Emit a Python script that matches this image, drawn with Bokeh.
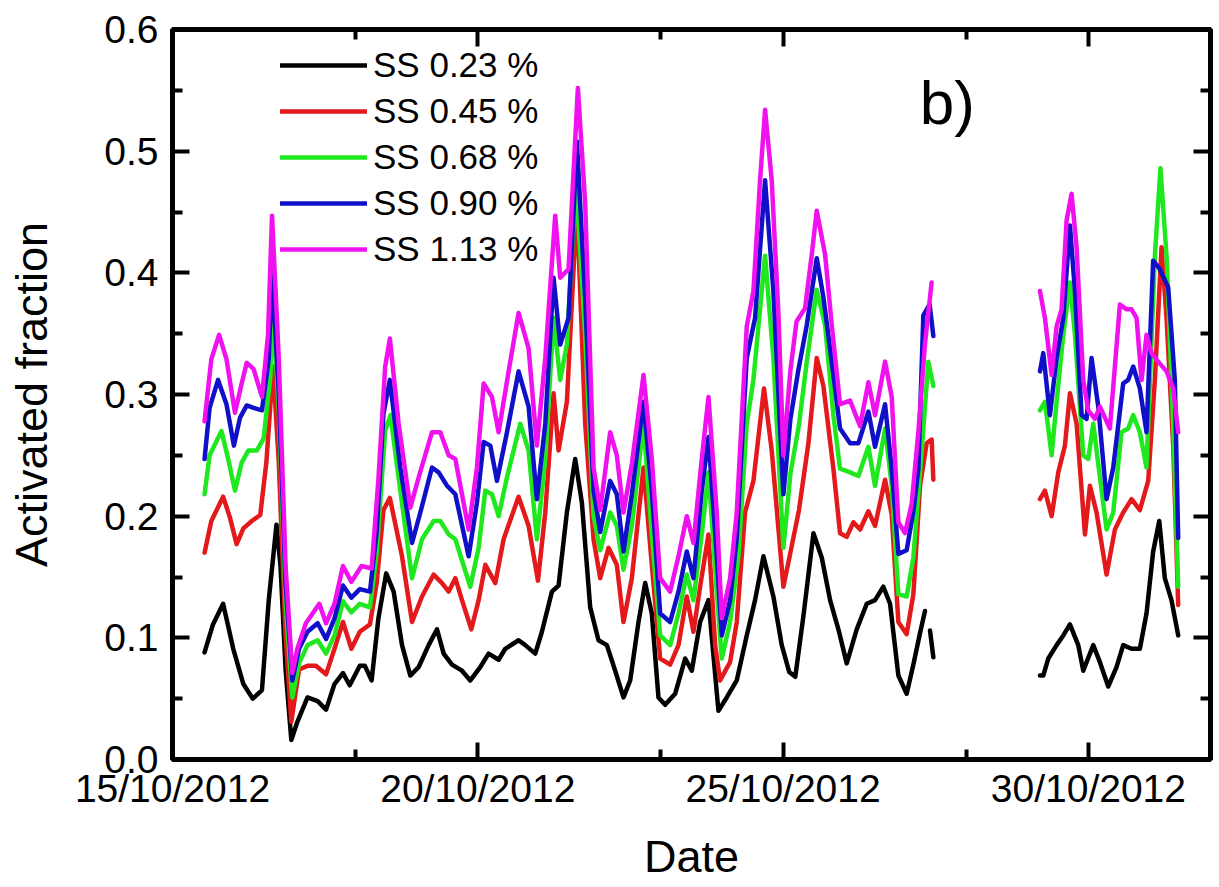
import numpy as np
import pandas as pd
from bokeh.plotting import figure
from bokeh.models import (FixedTicker, DatetimeTickFormatter, LinearAxis, DatetimeAxis,
                          Legend, LegendItem, Label, NumeralTickFormatter, CustomLabelingPolicy)
from bokeh.embed import file_html
from bokeh.resources import INLINE

# ---------------- data (days after 15/10/2012 00:00, activated fraction) ----------------
start_date = "2012-10-15"
end_date = "2012-11-01"
x_major_dates = ["2012-10-15", "2012-10-20", "2012-10-25", "2012-10-30"]
x_minor_dates = ["2012-10-18", "2012-10-23", "2012-10-28"]
y_major = [0.0, 0.1, 0.2, 0.3, 0.4, 0.5, 0.6]
y_minor = [0.05, 0.15, 0.25, 0.35, 0.45, 0.55]

series_labels = ["SS 0.23 %", "SS 0.45 %", "SS 0.68 %", "SS 0.90 %", "SS 1.13 %"]
series_colors = ["#000000", "#e3191b", "#1fe81f", "#1010c8", "#ef12ef"]

# None marks a gap in the record
ss023_days = [0.525, 0.663, 0.829, 0.995, 1.161, 1.316, 1.465, 1.575, 1.703, 1.769, 1.852, 1.946,
              2.045, 2.211, 2.377, 2.515, 2.653, 2.792, 2.902, 3.068, 3.151, 3.261, 3.372, 3.50,
              3.622, 3.759, 3.895, 4.032, 4.195, 4.332, 4.441, 4.577, 4.741, 4.877, 5.041, 5.177,
              5.341, 5.450, 5.668, 5.777, 5.941, 6.050, 6.214, 6.323, 6.459, 6.595, 6.705, 6.841,
              6.977, 7.114, 7.250, 7.386, 7.496, 7.632, 7.741, 7.850, 7.959, 8.068, 8.232, 8.396,
              8.505, 8.641, 8.778, 8.941, 9.077, 9.241, 9.405, 9.541, 9.678, 9.841, 9.978, 10.10,
              10.20, 10.333, 10.497, 10.633, 10.770, 10.906, 11.042, 11.206, 11.370, 11.506, 11.642,
              11.752, 11.888, 12.024, 12.134, 12.243, 12.324, 12.365, 12.406, 12.461, 13.3,
              14.207, 14.261, 14.343, 14.480, 14.589, 14.698, 14.834, 14.916, 15.080, 15.189,
              15.325, 15.461, 15.570, 15.707, 15.843, 15.952, 16.061, 16.161, 16.252, 16.361, 16.471]
ss023_vals = [0.088, 0.111, 0.128, 0.091, 0.062, 0.050, 0.057, 0.130, 0.193, 0.159, 0.074, 0.016,
              0.031, 0.051, 0.048, 0.041, 0.062, 0.071, 0.061, 0.077, 0.077, 0.065, 0.116, 0.153,
              0.138, 0.094, 0.069, 0.076, 0.094, 0.107, 0.087, 0.078, 0.073, 0.065, 0.076, 0.087,
              0.082, 0.091, 0.098, 0.094, 0.087, 0.105, 0.138, 0.143, 0.203, 0.247, 0.211, 0.125,
              0.098, 0.094, 0.073, 0.051, 0.065, 0.113, 0.145, 0.120, 0.051, 0.045, 0.054, 0.083,
              0.073, 0.113, 0.131, 0.040, 0.051, 0.065, 0.102, 0.131, 0.167, 0.134, 0.094, 0.072,
              0.068, 0.118, 0.186, 0.166, 0.131, 0.107, 0.079, 0.107, 0.128, 0.131, 0.142,
              0.128, 0.069, 0.054, 0.078, 0.104, 0.122, None, 0.106, 0.084, None,
              0.069, 0.069, 0.083, 0.094, 0.102, 0.111, 0.094, 0.073, 0.094, 0.080,
              0.060, 0.076, 0.094, 0.091, 0.091, 0.120, 0.171, 0.196, 0.149, 0.131, 0.102]

ss045_days = [0.525, 0.636, 0.829, 0.940, 1.050, 1.161, 1.299, 1.437, 1.537, 1.647, 1.741, 1.852,
              1.946, 2.073, 2.211, 2.349, 2.515, 2.653, 2.792, 2.930, 3.068, 3.234, 3.344, 3.455,
              3.56, 3.759, 3.923, 4.086, 4.277, 4.414, 4.523, 4.632, 4.741, 4.894, 5.014, 5.123,
              5.287, 5.423, 5.668, 5.832, 5.985, 6.105, 6.241, 6.323, 6.459, 6.623, 6.759, 6.896,
              7.005, 7.141, 7.277, 7.386, 7.523, 7.714, 7.850, 7.987, 8.150, 8.287, 8.423, 8.532,
              8.641, 8.778, 8.887, 8.968, 9.132, 9.241, 9.377, 9.514, 9.687, 9.814, 10.005, 10.12,
              10.26, 10.415, 10.551, 10.660, 10.824, 10.933, 11.042, 11.152, 11.261, 11.397, 11.506,
              11.670, 11.779, 11.888, 12.024, 12.134, 12.243, 12.352, 12.433, 12.461, 13.3,
              14.207, 14.288, 14.398, 14.507, 14.616, 14.698, 14.807, 14.944, 15.025, 15.134,
              15.298, 15.434, 15.570, 15.707, 15.843, 15.980, 16.089, 16.198, 16.280, 16.389, 16.471]
ss045_vals = [0.170, 0.196, 0.216, 0.199, 0.177, 0.190, 0.196, 0.201, 0.244, 0.323, 0.244, 0.102,
              0.031, 0.074, 0.077, 0.077, 0.070, 0.091, 0.113, 0.091, 0.105, 0.111, 0.145, 0.205,
              0.215, 0.167, 0.113, 0.134, 0.152, 0.145, 0.138, 0.149, 0.131, 0.107, 0.131, 0.160,
              0.145, 0.181, 0.216, 0.192, 0.147, 0.203, 0.301, 0.254, 0.294, 0.457, 0.276, 0.181,
              0.149, 0.174, 0.160, 0.113, 0.149, 0.240, 0.160, 0.083, 0.078, 0.094, 0.134, 0.105,
              0.142, 0.185, 0.094, 0.065, 0.080, 0.113, 0.203, 0.229, 0.305, 0.254, 0.142, 0.170,
              0.205, 0.260, 0.330, 0.307, 0.239, 0.186, 0.183, 0.195, 0.189, 0.204, 0.192,
              0.230, 0.201, 0.113, 0.103, 0.136, 0.225, 0.260, 0.263, 0.230, None,
              0.214, 0.221, 0.200, 0.236, 0.258, 0.301, 0.276, 0.185, 0.225, 0.203,
              0.152, 0.189, 0.203, 0.214, 0.205, 0.229, 0.312, 0.421, 0.363, 0.258, 0.127]

ss068_days = [0.525, 0.608, 0.802, 0.912, 1.023, 1.133, 1.244, 1.382, 1.493, 1.603, 1.65, 1.741,
              1.852, 1.962, 2.073, 2.211, 2.377, 2.515, 2.653, 2.792, 2.930, 3.068, 3.234, 3.344,
              3.483, 3.57, 3.731, 3.923, 4.086, 4.277, 4.386, 4.523, 4.632, 4.877, 5.014, 5.123,
              5.232, 5.341, 5.478, 5.695, 5.832, 5.968, 6.105, 6.241, 6.350, 6.459, 6.606, 6.759,
              6.896, 7.005, 7.168, 7.277, 7.386, 7.523, 7.714, 7.850, 7.987, 8.150, 8.287, 8.423,
              8.532, 8.668, 8.778, 8.914, 8.996, 9.132, 9.268, 9.405, 9.514, 9.705, 9.841, 10.005,
              10.12, 10.26, 10.388, 10.551, 10.688, 10.824, 10.933, 11.097, 11.234, 11.397, 11.506,
              11.670, 11.779, 11.888, 12.024, 12.134, 12.270, 12.379, 12.461, 13.3,
              14.207, 14.288, 14.398, 14.480, 14.589, 14.698, 14.780, 14.916, 14.998, 15.080,
              15.189, 15.298, 15.407, 15.543, 15.652, 15.734, 15.843, 15.952, 16.089, 16.180,
              16.280, 16.389, 16.471]
ss068_vals = [0.218, 0.250, 0.270, 0.247, 0.221, 0.244, 0.254, 0.254, 0.264, 0.315, 0.370, 0.287,
              0.130, 0.051, 0.079, 0.094, 0.098, 0.087, 0.102, 0.130, 0.121, 0.128, 0.125, 0.170,
              0.270, 0.283, 0.221, 0.149, 0.181, 0.196, 0.196, 0.185, 0.181, 0.142, 0.174, 0.221,
              0.218, 0.200, 0.232, 0.276, 0.254, 0.181, 0.247, 0.363, 0.312, 0.341, 0.476, 0.349,
              0.200, 0.172, 0.203, 0.192, 0.156, 0.192, 0.276, 0.185, 0.102, 0.094, 0.120, 0.152,
              0.131, 0.185, 0.236, 0.138, 0.083, 0.113, 0.167, 0.276, 0.312, 0.414, 0.330, 0.174,
              0.235, 0.275, 0.327, 0.386, 0.357, 0.283, 0.239, 0.236, 0.233, 0.257, 0.225,
              0.272, 0.225, 0.136, 0.134, 0.166, 0.254, 0.327, 0.307, None,
              0.287, 0.294, 0.250, 0.294, 0.349, 0.392, 0.349, 0.250, 0.247, 0.276,
              0.232, 0.189, 0.203, 0.269, 0.272, 0.283, 0.269, 0.240, 0.414, 0.486,
              0.414, 0.276, 0.142]

ss090_days = [0.525, 0.608, 0.746, 0.884, 1.006, 1.106, 1.216, 1.327, 1.465, 1.575, 1.63, 1.741,
              1.852, 1.962, 2.073, 2.211, 2.377, 2.515, 2.653, 2.792, 2.930, 3.068, 3.234, 3.344,
              3.455, 3.56, 3.731, 3.923, 4.059, 4.250, 4.359, 4.496, 4.632, 4.850, 4.986, 5.096,
              5.205, 5.314, 5.478, 5.668, 5.832, 5.968, 6.105, 6.241, 6.350, 6.486, 6.623, 6.759,
              6.896, 7.005, 7.168, 7.277, 7.386, 7.523, 7.714, 7.850, 7.987, 8.150, 8.287, 8.423,
              8.532, 8.668, 8.778, 8.914, 8.996, 9.132, 9.241, 9.405, 9.541, 9.705, 9.841, 10.005,
              10.12, 10.25, 10.388, 10.551, 10.660, 10.797, 10.933, 11.097, 11.234, 11.397, 11.506,
              11.670, 11.779, 11.888, 12.024, 12.134, 12.215, 12.297, 12.40, 12.461, 13.3,
              14.207, 14.261, 14.370, 14.480, 14.589, 14.698, 14.780, 14.889, 14.971, 15.052,
              15.162, 15.298, 15.407, 15.570, 15.652, 15.734, 15.843, 15.952, 16.061, 16.170,
              16.307, 16.416, 16.471]
ss090_vals = [0.247, 0.289, 0.312, 0.292, 0.258, 0.281, 0.291, 0.289, 0.287, 0.329, 0.400, 0.301,
              0.145, 0.065, 0.091, 0.105, 0.112, 0.099, 0.116, 0.143, 0.133, 0.140, 0.138, 0.187,
              0.284, 0.312, 0.240, 0.178, 0.203, 0.240, 0.236, 0.225, 0.218, 0.167, 0.211, 0.261,
              0.258, 0.229, 0.269, 0.319, 0.290, 0.214, 0.276, 0.396, 0.341, 0.363, 0.508, 0.378,
              0.221, 0.187, 0.229, 0.218, 0.171, 0.218, 0.294, 0.221, 0.120, 0.113, 0.138, 0.171,
              0.149, 0.221, 0.265, 0.167, 0.102, 0.131, 0.182, 0.330, 0.363, 0.476, 0.385, 0.218,
              0.280, 0.320, 0.357, 0.412, 0.380, 0.327, 0.272, 0.260, 0.260, 0.286, 0.257,
              0.292, 0.239, 0.169, 0.172, 0.204, 0.239, 0.365, 0.374, 0.348, None,
              0.319, 0.334, 0.283, 0.330, 0.363, 0.439, 0.385, 0.283, 0.280, 0.330,
              0.290, 0.214, 0.240, 0.309, 0.312, 0.323, 0.305, 0.269, 0.410, 0.403,
              0.388, 0.312, 0.182]

ss113_days = [0.525, 0.636, 0.763, 0.884, 1.023, 1.133, 1.216, 1.327, 1.465, 1.564, 1.63, 1.741,
              1.852, 1.962, 2.045, 2.184, 2.405, 2.515, 2.653, 2.792, 2.930, 3.096, 3.261, 3.372,
              3.483, 3.56, 3.704, 3.895, 4.032, 4.250, 4.386, 4.523, 4.632, 4.850, 4.986, 5.096,
              5.232, 5.341, 5.505, 5.668, 5.832, 5.968, 6.105, 6.268, 6.350, 6.486, 6.639, 6.759,
              6.896, 7.005, 7.168, 7.277, 7.386, 7.523, 7.714, 7.850, 7.987, 8.150, 8.287, 8.423,
              8.532, 8.668, 8.778, 8.914, 8.996, 9.132, 9.241, 9.405, 9.514, 9.623, 9.705, 9.814,
              9.923, 10.005, 10.12, 10.22, 10.360, 10.470, 10.551, 10.688, 10.797, 10.933, 11.097,
              11.261, 11.397, 11.506, 11.670, 11.779, 11.888, 11.997, 12.106, 12.215, 12.324,
              12.433, 13.3,
              14.207, 14.288, 14.398, 14.480, 14.561, 14.643, 14.725, 14.807, 14.916, 14.998,
              15.107, 15.189, 15.352, 15.516, 15.625, 15.707, 15.789, 15.871, 15.952, 16.034,
              16.143, 16.280, 16.389, 16.471]
ss113_vals = [0.278, 0.329, 0.349, 0.329, 0.285, 0.309, 0.326, 0.321, 0.298, 0.349, 0.447, 0.329,
              0.159, 0.071, 0.091, 0.112, 0.128, 0.112, 0.128, 0.159, 0.146, 0.159, 0.157, 0.230,
              0.323, 0.346, 0.276, 0.207, 0.232, 0.269, 0.269, 0.250, 0.247, 0.189, 0.240, 0.309,
              0.298, 0.269, 0.319, 0.367, 0.338, 0.258, 0.330, 0.447, 0.396, 0.403, 0.552, 0.457,
              0.240, 0.205, 0.269, 0.250, 0.203, 0.243, 0.316, 0.247, 0.149, 0.138, 0.167, 0.200,
              0.178, 0.247, 0.298, 0.203, 0.116, 0.149, 0.203, 0.356, 0.385, 0.476, 0.534, 0.476,
              0.367, 0.250, 0.320, 0.360, 0.371, 0.415, 0.451, 0.415, 0.357, 0.292, 0.295,
              0.274, 0.310, 0.283, 0.327, 0.298, 0.195, 0.186, 0.210, 0.269, 0.342,
              0.392, None,
              0.385, 0.363, 0.316, 0.356, 0.370, 0.443, 0.465, 0.421, 0.312, 0.287,
              0.280, 0.290, 0.272, 0.374, 0.370, 0.370, 0.363, 0.312, 0.349, 0.334,
              0.327, 0.319, 0.305, 0.269]

panel_tag_text = "b)"

# ---------------- helpers ----------------
t0 = pd.Timestamp(start_date)
MS_PER_DAY = 86400000.0
t0_ms = t0.value / 1e6


def to_ms(days):
    return t0_ms + np.asarray(days, dtype=float) * MS_PER_DAY


def date_ms(s):
    return pd.Timestamp(s).value / 1e6


FONT = "Liberation Sans"

p = figure(frame_width=1038, frame_height=730,
           x_axis_type="datetime",
           x_range=(date_ms(start_date), date_ms(end_date)), y_range=(0, 0.6),
           output_backend="svg", toolbar_location=None,
           min_border_left=172, min_border_right=1, min_border_top=29, min_border_bottom=110)
p.background_fill_color = "white"
p.border_fill_color = "white"
p.xgrid.visible = False
p.ygrid.visible = False
p.outline_line_color = "black"
p.outline_line_width = 5

x_fmt = DatetimeTickFormatter(days="%d/%m/%Y", months="%d/%m/%Y", years="%d/%m/%Y",
                              hours="%d/%m/%Y", hourmin="%d/%m/%Y")
x_ticker = FixedTicker(ticks=[date_ms(d) for d in x_major_dates],
                       minor_ticks=[date_ms(d) for d in x_minor_dates])
y_ticker = FixedTicker(ticks=y_major, minor_ticks=y_minor)


def style_axis(ax, labels=True):
    ax.axis_line_width = 5
    ax.axis_line_color = "black"
    ax.major_tick_line_width = 4
    ax.minor_tick_line_width = 4
    ax.major_tick_line_color = "black"
    ax.minor_tick_line_color = "black"
    ax.major_tick_in = 17
    ax.major_tick_out = 0
    ax.minor_tick_in = 10
    ax.minor_tick_out = 0
    ax.major_label_text_font = FONT
    ax.major_label_text_color = "black"
    ax.axis_label_text_font = FONT
    ax.axis_label_text_font_style = "normal"
    ax.axis_label_text_color = "black"
    if labels:
        ax.major_label_text_font_size = "39px"
        ax.axis_label_text_font_size = "45px"
    else:
        # mirrored frame ticks only: no labels are drawn on these sides
        ax.major_label_text_font_size = "1px"
        ax.major_label_standoff = 0
        ax.major_label_policy = CustomLabelingPolicy(code="return []")


xa = p.xaxis[0]
xa.ticker = x_ticker
xa.formatter = x_fmt
style_axis(xa)
xa.axis_label = "Date"
xa.major_label_standoff = 7
xa.axis_label_standoff = 18

ya = p.yaxis[0]
ya.ticker = y_ticker
ya.formatter = NumeralTickFormatter(format="0.0")
style_axis(ya)
ya.axis_label = "Activated fraction"
ya.major_label_standoff = 14
ya.axis_label_standoff = 44

top = DatetimeAxis(ticker=FixedTicker(ticks=[date_ms(d) for d in x_major_dates],
                                      minor_ticks=[date_ms(d) for d in x_minor_dates]),
                   formatter=x_fmt)
style_axis(top, labels=False)
p.add_layout(top, "above")

right = LinearAxis(ticker=FixedTicker(ticks=y_major, minor_ticks=y_minor))
style_axis(right, labels=False)
p.add_layout(right, "right")

all_days = [ss023_days, ss045_days, ss068_days, ss090_days, ss113_days]
all_vals = [ss023_vals, ss045_vals, ss068_vals, ss090_vals, ss113_vals]

renderers = []
for days, vals, col in zip(all_days, all_vals, series_colors):
    y = np.array(vals, dtype=float)
    r = p.line(to_ms(days), y, line_color=col, line_width=4.5,
               line_join="round", line_cap="round")
    renderers.append(r)

legend = Legend(items=[LegendItem(label=lab, renderers=[r])
                       for lab, r in zip(series_labels, renderers)],
                location=(108, 487))
legend.padding = 0
legend.margin = 0
legend.spacing = 0
legend.border_line_alpha = 0
legend.background_fill_alpha = 0
legend.glyph_width = 87
legend.glyph_height = 46
legend.label_height = 46
legend.label_standoff = 6
legend.label_text_font = FONT
legend.label_text_font_size = "35px"
legend.label_text_color = "black"
legend.label_text_baseline = "middle"
p.add_layout(legend)

panel_tag = Label(x=to_ms(12.24), y=0.54, text=panel_tag_text, text_font=FONT,
                  text_font_size="62px", text_color="black", text_baseline="middle")
p.add_layout(panel_tag)

open("out.html", "w").write(file_html(p, INLINE, title="Activated fraction"))
